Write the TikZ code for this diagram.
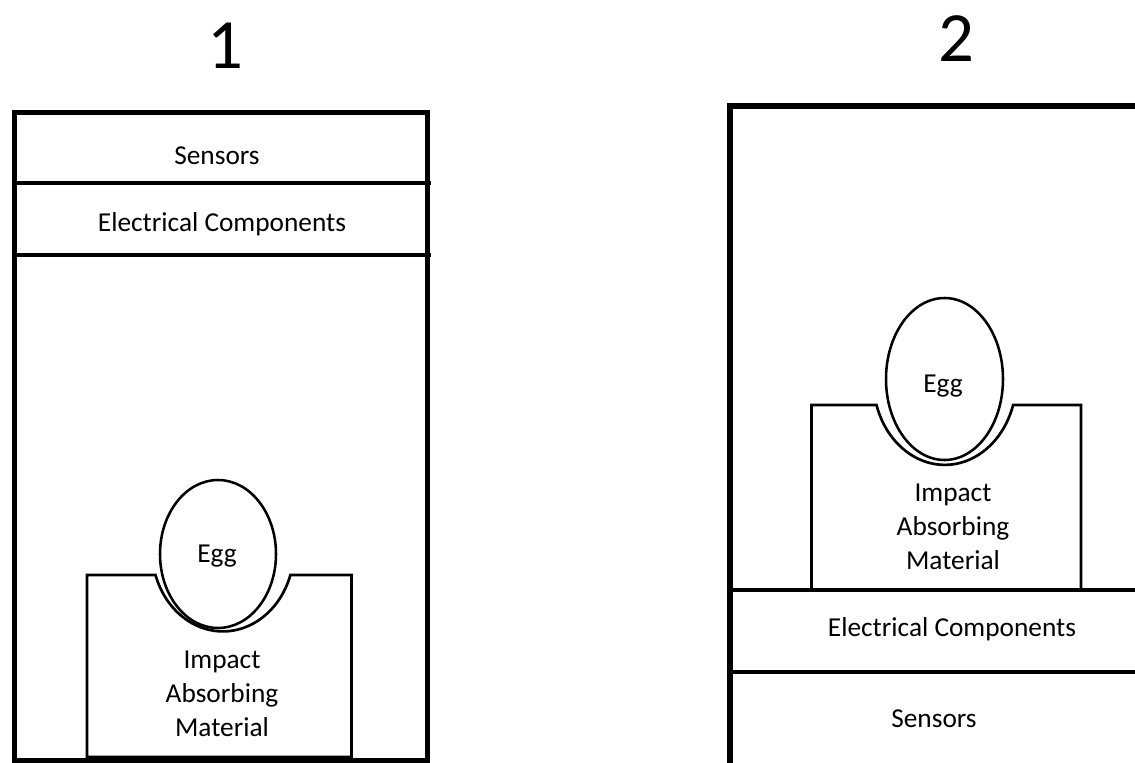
\documentclass[tikz,border=0pt]{standalone}
\usepackage{fontspec}
\setmainfont{Carlito}
\begin{document}
\begin{tikzpicture}[x=0.75pt,y=-0.75pt,
  outer/.style={line width=4.1pt,line cap=rect},
  divider/.style={line width=2.5pt},
  padline/.style={line width=2pt},
  eggline/.style={line width=1.9pt},
  lbl/.style={font=\fontsize{20.5}{25.3}\selectfont,inner sep=0pt,align=center},
  ttl/.style={font=\fontsize{53}{60}\selectfont,inner sep=0pt}]
\useasboundingbox (0,0) rectangle (1135,763);
% ---------- Diagram 1 ----------
\node[ttl] (t1) at (225,46) {1};
\draw[outer] (14.5,770) -- (14.5,112.5) -- (427.5,112.5) -- (427.5,770);
\draw[outer] (14.5,761) -- (427.5,761);
\draw[divider] (14.5,183) -- (431,183);
\draw[divider] (14.5,255) -- (431,255);
\node[lbl] (s1) at (217,156) {Sensors};
\node[lbl] (e1) at (222,224) {Electrical Components};
% padding with notch
\draw[padline] (87,757) -- (87,575) -- (155.5,575)
  arc[start angle=161.8,end angle=18.2,x radius=71,y radius=82]
  -- (351.5,575) -- (351.5,757) -- cycle;
\draw[eggline] (218,554) ellipse[x radius=58,y radius=74];
\node[lbl] (g1) at (217,556) {Egg};
\node[lbl] (m1) at (222,694) {Impact\\Absorbing\\Material};
% ---------- Diagram 2 ----------
\node[ttl] (t2) at (956,39) {2};
\draw[outer] (730,770) -- (730,106) -- (1140,106);
\draw[divider] (730,590) -- (1140,590);
\draw[divider] (730,672) -- (1140,672);
\draw[padline] (811.5,590) -- (811.5,405) -- (876.5,405)
  arc[start angle=162.8,end angle=17.2,x radius=71.5,y radius=85]
  -- (1081,405) -- (1081,590);
\draw[eggline] (944.5,379) ellipse[x radius=58.5,y radius=81];
\node[lbl] (g2) at (943,386) {Egg};
\node[lbl] (m2) at (953,527) {Impact\\Absorbing\\Material};
\node[lbl] (e2) at (952,629) {Electrical Components};
\node[lbl] (s2) at (934,719) {Sensors};
\end{tikzpicture}
\end{document}
